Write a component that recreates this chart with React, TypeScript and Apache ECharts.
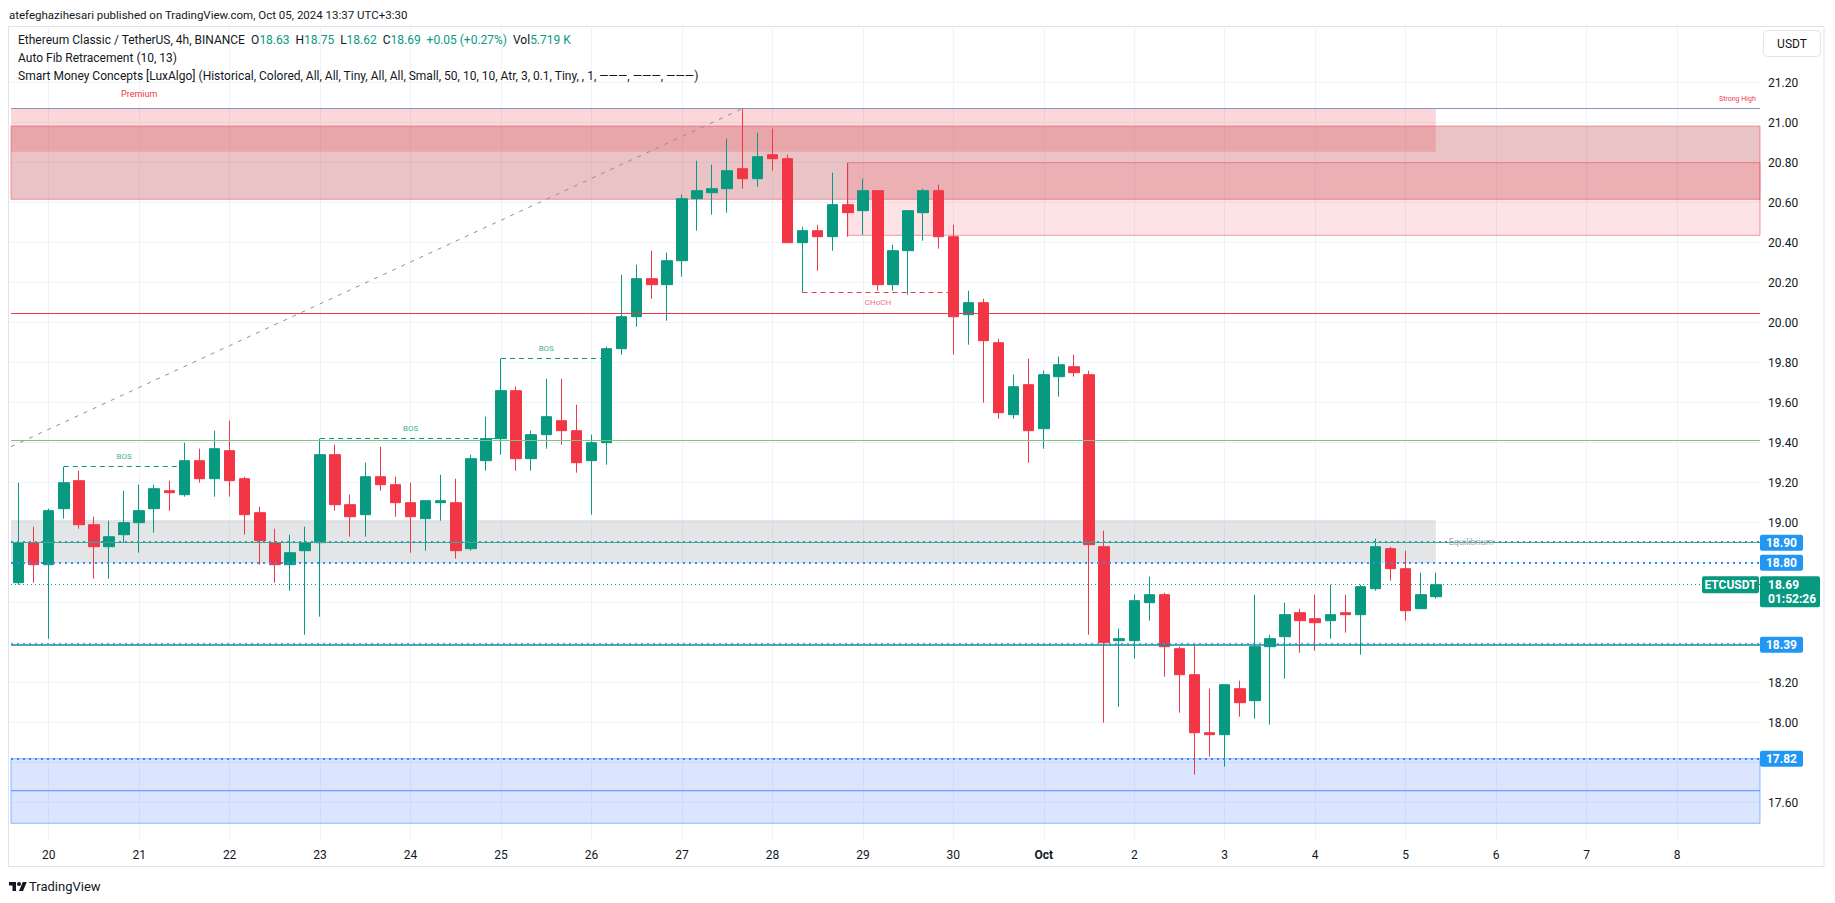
import React, { useEffect, useRef } from "react";
import * as echarts from "echarts";

const UP = "#089981";
const DOWN = "#F23645";
const FONT = "Roboto, 'Noto Sans', sans-serif";
const TEXT = "#131722";

// ---- candles (4h ETCUSDT) ----
const opens = [
  18.70, 18.90, 18.79, 19.07, 19.21, 18.99, 18.88, 18.94, 19.00, 19.07,
  19.16, 19.14, 19.31, 19.22, 19.36, 19.22, 19.05, 18.90, 18.79, 18.86,
  18.90, 19.34, 19.09, 19.04, 19.23, 19.19, 19.10, 19.02, 19.10, 19.10,
  18.87, 19.31, 19.42, 19.66, 19.32, 19.44, 19.51, 19.46, 19.31, 19.40,
  19.87, 20.03, 20.22, 20.19, 20.31, 20.62, 20.65, 20.67, 20.77, 20.72,
  20.84, 20.82, 20.40, 20.46, 20.43, 20.59, 20.56, 20.66, 20.19, 20.36,
  20.55, 20.66, 20.43, 20.04, 20.10, 19.90, 19.54, 19.69, 19.47, 19.73,
  19.78, 19.74, 18.88, 18.41, 18.41, 18.60, 18.64, 18.37, 18.24, 17.95,
  17.94, 18.17, 18.11, 18.38, 18.43, 18.55, 18.52, 18.51, 18.55, 18.54,
  18.67, 18.87, 18.77, 18.57, 18.63,
];
const closes = [
  18.90, 18.79, 19.06, 19.20, 18.99, 18.88, 18.93, 19.00, 19.06, 19.17,
  19.15, 19.31, 19.22, 19.37, 19.21, 19.04, 18.91, 18.79, 18.85, 18.90,
  19.34, 19.09, 19.03, 19.23, 19.19, 19.10, 19.03, 19.11, 19.11, 18.86,
  19.32, 19.42, 19.66, 19.32, 19.44, 19.53, 19.46, 19.30, 19.40, 19.87,
  20.03, 20.22, 20.19, 20.31, 20.62, 20.66, 20.67, 20.76, 20.72, 20.83,
  20.82, 20.40, 20.46, 20.43, 20.59, 20.55, 20.66, 20.19, 20.36, 20.56,
  20.66, 20.43, 20.03, 20.10, 19.91, 19.55, 19.68, 19.46, 19.74, 19.79,
  19.75, 18.89, 18.40, 18.42, 18.61, 18.64, 18.38, 18.24, 17.95, 17.94,
  18.19, 18.10, 18.38, 18.42, 18.54, 18.51, 18.50, 18.54, 18.54, 18.68,
  18.88, 18.77, 18.56, 18.64, 18.69,
];
const lows = [
  18.69, 18.70, 18.42, 19.02, 18.97, 18.72, 18.72, 18.90, 18.85, 18.95,
  19.06, 19.13, 19.20, 19.13, 19.13, 18.94, 18.79, 18.70, 18.66, 18.44,
  18.53, 19.06, 18.93, 18.93, 19.16, 19.03, 18.85, 18.86, 19.01, 18.82,
  18.86, 19.26, 19.34, 19.26, 19.26, 19.37, 19.39, 19.25, 19.04, 19.29,
  19.84, 19.98, 20.12, 20.01, 20.23, 20.46, 20.54, 20.55, 20.67, 20.68,
  20.76, 20.40, 20.15, 20.26, 20.36, 20.43, 20.44, 20.16, 20.16, 20.14,
  20.41, 20.37, 19.84, 19.89, 19.60, 19.52, 19.52, 19.30, 19.37, 19.63,
  19.73, 18.44, 18.00, 18.08, 18.32, 18.51, 18.23, 18.05, 17.74, 17.83,
  17.78, 18.03, 18.02, 17.99, 18.22, 18.35, 18.36, 18.42, 18.45, 18.34,
  18.66, 18.71, 18.51, 18.57, 18.62,
];
const highs = [
  19.20, 18.98, 19.07, 19.28, 19.26, 19.03, 19.01, 19.16, 19.19, 19.19,
  19.21, 19.40, 19.37, 19.46, 19.51, 19.23, 19.08, 18.97, 18.94, 18.98,
  19.42, 19.39, 19.14, 19.30, 19.38, 19.23, 19.20, 19.11, 19.24, 19.22,
  19.34, 19.53, 19.82, 19.68, 19.46, 19.72, 19.72, 19.59, 19.44, 19.88,
  20.24, 20.29, 20.36, 20.35, 20.64, 20.81, 20.79, 20.92, 21.07, 20.95,
  20.97, 20.84, 20.48, 20.49, 20.75, 20.80, 20.72, 20.66, 20.39, 20.56,
  20.67, 20.69, 20.49, 20.16, 20.12, 19.92, 19.74, 19.82, 19.76, 19.83,
  19.84, 19.76, 18.96, 18.47, 18.64, 18.73, 18.65, 18.38, 18.39, 18.17,
  18.19, 18.21, 18.64, 18.44, 18.60, 18.57, 18.64, 18.69, 18.64, 18.69,
  18.92, 18.88, 18.86, 18.75, 18.75,
];
const volumeText = "5.719 K";
const countdown = "01:52:26";

// ---- time axis ----
const dayLabels = ["20", "21", "22", "23", "24", "25", "26", "27", "28", "29", "30", "Oct", "2", "3", "4", "5", "6", "7", "8"];
const firstDaySlot = 2;
const barsPerDay = 6;
const slotCount = 116;

// ---- price axis ----
const yTicks = [17.6, 17.8, 18.0, 18.2, 18.4, 18.6, 18.8, 19.0, 19.2, 19.4, 19.6, 19.8, 20.0, 20.2, 20.4, 20.6, 20.8, 21.0, 21.2];
const yMin = 17.4;
const yMax = 21.6;
const yStep = 0.2;
const plotTopPrice = 21.48;
const plotBottomPrice = 17.41;

// ---- zones [fromBar, toBar, low, high] ----
const premiumZone = [-0.5, 94, 20.855, 21.07];
const equilibriumZone = [-0.5, 94, 18.797, 19.013];
const bearishOBs = [
  [-0.5, 115.5, 20.617, 20.983],
  [55, 115.5, 20.437, 20.8],
];
const bullishOBs = [
  [-0.5, 115.5, 17.66, 17.82],
  [-0.5, 115.5, 17.497, 17.66],
];

// ---- horizontal levels ----
const levels = [
  { price: 21.07, color: "#8593c4", width: 1, dash: "solid" },
  { price: 20.047, color: "#e53e46", width: 1, dash: "solid" },
  { price: 19.412, color: "#7cc47f", width: 1, dash: "solid" },
  { price: 18.9, color: "#4caf50", width: 1, dash: "solid" },
  { price: 18.905, color: "#2f8ff0", width: 2, dash: [2, 4] },
  { price: 18.8, color: "#2f8ff0", width: 2, dash: [2, 4] },
  { price: 18.69, color: UP, width: 1, dash: [1, 3] },
  { price: 18.39, color: "#138f8f", width: 1.5, dash: "solid" },
  { price: 18.397, color: "#2f8ff0", width: 1.5, dash: [2, 4] },
  { price: 17.82, color: "#2f8ff0", width: 2, dash: [2, 4] },
];
const axisBadges = [18.9, 18.8, 18.39, 17.82];

// ---- market structure ----
const structures = [
  { label: "BOS", from: 3, to: 11, price: 19.28, color: UP, above: true },
  { label: "BOS", from: 20, to: 32, price: 19.42, color: UP, above: true },
  { label: "BOS", from: 32, to: 39, price: 19.82, color: UP, above: true },
  { label: "CHoCH", from: 52, to: 62, price: 20.15, color: DOWN, above: false },
];
const fibTrend = [[-0.5, 19.38], [48, 21.07]];
const strongHighLabel = { bar: 114, price: 21.07 };
const premiumLabel = { bar: 8, price: 21.07 };
const equilibriumLabel = { bar: 94, price: 18.905 };

const tvPath = "M14 22H7V11H0V4h14v18zM28 22h-8l7.5-18h8L28 22zM24 8a4 4 0 1 1-8 0a4 4 0 1 1 8 0z";
echarts.graphic.registerShape("tvlogo", echarts.graphic.extendPath(tvPath, {}));

const slotLabel = (i: number) => {
  const k = (i - firstDaySlot) / barsPerDay;
  if (Number.isInteger(k) && k >= 0 && k < dayLabels.length) return dayLabels[k];
  return "";
};

export default function App() {
  const ref = useRef<HTMLDivElement>(null);

  useEffect(() => {
    if (!ref.current) return;
    const chart = echarts.init(ref.current, null, { renderer: "svg" });
    const xLo = -0.5;
    const xHi = slotCount - 0.5;
    const categories = Array.from({ length: slotCount }, (_, i) => String(i));
    const daySlots = dayLabels.map((_, k) => firstDaySlot + k * barsPerDay);
    const lastClose = closes[closes.length - 1];

    // price-scale labels hidden behind the coloured badges
    const coveredTick = (t: number) =>
      axisBadges.some((p) => Math.abs(p - t) < 0.06) || (t <= lastClose + 0.045 && t >= lastClose - 0.11);

    const zoneItem = (z: number[], fill: string, border?: string) => [
      {
        coord: [z[0], z[3]],
        itemStyle: { color: fill, borderColor: border || "transparent", borderWidth: border ? 1 : 0 },
      },
      { coord: [z[1], z[2]] },
    ];

    const option: any = {
      animation: false,
      backgroundColor: "#ffffff",
      grid: { left: 11, top: 2.7, width: 1749, height: 840, containLabel: false },
      xAxis: [
        {
          type: "category",
          data: categories,
          boundaryGap: true,
          axisLine: { show: false },
          axisTick: { show: false },
          splitLine: { show: false },
          axisLabel: {
            interval: 0,
            margin: 6,
            color: TEXT,
            fontSize: 12,
            fontFamily: FONT,
            formatter: (v: string) => {
              const s = slotLabel(Number(v));
              return s === "Oct" ? "{b|Oct}" : s;
            },
            rich: { b: { fontWeight: "bold", fontSize: 12, color: TEXT, fontFamily: FONT } },
          },
        },
        { type: "value", min: xLo, max: xHi, show: false },
      ],
      yAxis: [
        {
          type: "value",
          position: "right",
          min: yMin,
          max: yMax,
          interval: yStep,
          axisLine: { show: false },
          axisTick: { show: false },
          splitLine: { show: false },
          axisLabel: {
            margin: 8,
            color: TEXT,
            fontSize: 12,
            fontFamily: FONT,
            align: "left",
            formatter: (v: number) => {
              const r = Math.round(v * 100) / 100;
              const isTick = yTicks.some((t) => Math.abs(t - r) < 1e-6);
              return isTick && !coveredTick(r) ? r.toFixed(2) : "";
            },
          },
        },
      ],
      series: [
        {
          name: "grid",
          type: "line",
          xAxisIndex: 1,
          yAxisIndex: 0,
          data: [],
          silent: true,
          markLine: {
            silent: true,
            z: 0,
            symbol: ["none", "none"],
            label: { show: false },
            lineStyle: { color: "#f0f3fa", width: 1, type: "solid" },
            data: [
              ...yTicks.map((t) => [{ coord: [xLo, t] }, { coord: [xHi, t] }]),
              ...daySlots.map((s) => [{ coord: [s, plotBottomPrice] }, { coord: [s, plotTopPrice] }]),
            ],
          },
        },
        {
          name: "zones",
          type: "line",
          xAxisIndex: 1,
          yAxisIndex: 0,
          data: [],
          silent: true,
          markArea: {
            silent: true,
            z: 1,
            label: { show: false },
            data: [
              zoneItem(premiumZone, "rgba(242,54,69,0.2)"),
              zoneItem(equilibriumZone, "rgba(120,123,134,0.2)"),
              ...bearishOBs.map((z, i) =>
                zoneItem(z, i === 0 ? "rgba(178,40,51,0.28)" : "rgba(242,54,69,0.14)", "rgba(225,80,92,0.55)")
              ),
              ...bullishOBs.map((z) => zoneItem(z, "rgba(41,98,255,0.17)", "rgba(41,130,255,0.5)")),
            ],
          },
        },
        {
          name: "ETCUSDT",
          type: "candlestick",
          xAxisIndex: 0,
          yAxisIndex: 0,
          z: 2,
          barWidth: 11,
          data: opens.map((o, i) => [o, closes[i], lows[i], highs[i]]),
          itemStyle: { color: UP, color0: DOWN, borderColor: UP, borderColor0: DOWN, borderWidth: 1 },
        },
        {
          name: "levels",
          type: "line",
          xAxisIndex: 1,
          yAxisIndex: 0,
          data: [],
          silent: true,
          markLine: {
            silent: true,
            z: 3,
            symbol: ["none", "none"],
            label: { show: false },
            data: [
              ...levels.map((l) => [
                { coord: [xLo, l.price], lineStyle: { color: l.color, width: l.width, type: l.dash } },
                { coord: [xHi, l.price] },
              ]),
              [
                { coord: fibTrend[0], lineStyle: { color: "#8d8f97", width: 1, type: [4, 6] } },
                { coord: fibTrend[1] },
              ],
              ...structures.map((s) => [
                { coord: [s.from, s.price], lineStyle: { color: s.color, width: 1, type: [5, 4] } },
                { coord: [s.to, s.price] },
              ]),
            ],
          },
          markPoint: {
            silent: true,
            z: 4,
            symbol: "circle",
            symbolSize: 0,
            data: [
              ...structures.map((s) => ({
                coord: [Math.floor((s.from + s.to) / 2), s.price],
                label: {
                  show: true,
                  formatter: s.label,
                  position: s.above ? "top" : "bottom",
                  distance: 6,
                  color: s.above ? "#45b09c" : "#f26f7a",
                  fontSize: 8,
                  fontFamily: FONT,
                },
              })),
              {
                coord: [strongHighLabel.bar, strongHighLabel.price],
                label: { show: true, formatter: "Strong High", position: "top", distance: 6, color: DOWN, fontSize: 7, fontFamily: FONT },
              },
              {
                coord: [premiumLabel.bar, premiumLabel.price],
                label: { show: true, formatter: "Premium", position: "top", distance: 10, color: DOWN, fontSize: 9, fontFamily: FONT },
              },
              {
                coord: [equilibriumLabel.bar, equilibriumLabel.price],
                label: { show: true, formatter: "Equilibrium", position: "right", distance: 13, color: "#a6a9b2", fontSize: 9, fontFamily: FONT },
              },
            ],
          },
        },
      ],
    };
    chart.setOption(option);

    const yOf = (p: number) => chart.convertToPixel({ yAxisIndex: 0 }, p) as number;
    const n = closes.length;
    const last = n - 1;
    const chg = closes[last] - closes[last - 1];
    const pct = (chg / closes[last - 1]) * 100;
    const sign = chg >= 0 ? "+" : "";
    const txt = (x: number, y: number, text: string, extra: any = {}) => ({
      type: "text",
      x,
      y,
      z: 100,
      style: {
        text,
        fill: TEXT,
        fontSize: 12,
        fontFamily: FONT,
        align: "left",
        textAlign: "left",
        verticalAlign: "middle",
        textVerticalAlign: "middle",
        ...extra,
      },
    });
    const g = { fill: UP, fontSize: 12, fontFamily: FONT };
    const graphics: any[] = [
      {
        type: "rect",
        z: 90,
        shape: { x: 8.5, y: 26.5, width: 1815.5, height: 840 },
        style: { fill: "none", stroke: "#e0e3eb", lineWidth: 1 },
      },
      txt(9, 15, "atefeghazihesari published on TradingView.com, Oct 05, 2024 13:37 UTC+3:30", { fontSize: 11.5 }),
      txt(
        18,
        40,
        `Ethereum Classic / TetherUS, 4h, BINANCE  O{g|${opens[last].toFixed(2)}}  H{g|${highs[last].toFixed(2)}}  L{g|${lows[last].toFixed(2)}}  C{g|${closes[last].toFixed(2)}}  {g|${sign}${chg.toFixed(2)} (${sign}${pct.toFixed(2)}%)}  Vol{g|${volumeText}}`,
        { rich: { g } }
      ),
      txt(18, 58, "Auto Fib Retracement (10, 13)"),
      txt(
        18,
        76,
        "Smart Money Concepts [LuxAlgo] (Historical, Colored, All, All, Tiny, All, All, Small, 50, 10, 10, Atr, 3, 0.1, Tiny, , 1, ———, ———, ———)"
      ),
      {
        type: "rect",
        z: 100,
        shape: { x: 1763.5, y: 30.5, width: 57, height: 26, r: 4 },
        style: { fill: "#ffffff", stroke: "#e0e3eb", lineWidth: 1 },
      },
      txt(1792, 44, "USDT", { align: "center", textAlign: "center" }),
      { type: "tvlogo", x: 9, y: 880, scaleX: 0.5, scaleY: 0.5, z: 100, style: { fill: TEXT } },
      txt(29, 886, "TradingView", { fontSize: 13 }),
    ];
    axisBadges.forEach((p) => {
      const y = yOf(p);
      graphics.push({
        type: "rect",
        z: 100,
        shape: { x: 1760, y: y - 8, width: 43, height: 16, r: 2 },
        style: { fill: "#2196f3" },
      });
      graphics.push(txt(1781.5, y, p.toFixed(2), { fill: "#ffffff", fontWeight: "bold", align: "center", textAlign: "center" }));
    });
    const ly = yOf(lastClose);
    graphics.push({
      type: "rect",
      z: 100,
      shape: { x: 1760, y: ly - 8.5, width: 60, height: 31, r: 2 },
      style: { fill: UP },
    });
    graphics.push(txt(1768, ly, lastClose.toFixed(2), { fill: "#ffffff", fontWeight: "bold" }));
    graphics.push(txt(1768, ly + 14, countdown, { fill: "#ffffff", fontWeight: "bold" }));
    graphics.push({
      type: "rect",
      z: 100,
      shape: { x: 1702, y: ly - 8.5, width: 57, height: 17, r: 2 },
      style: { fill: UP },
    });
    graphics.push(txt(1730.5, ly, "ETCUSDT", { fill: "#ffffff", fontWeight: "bold", align: "center", textAlign: "center" }));
    chart.setOption({ graphic: graphics });

    return () => chart.dispose();
  }, []);

  return <div ref={ref} style={{ position: "fixed", left: 0, top: 0, width: "1835px", height: "903px", background: "#fff" }} />;
}
